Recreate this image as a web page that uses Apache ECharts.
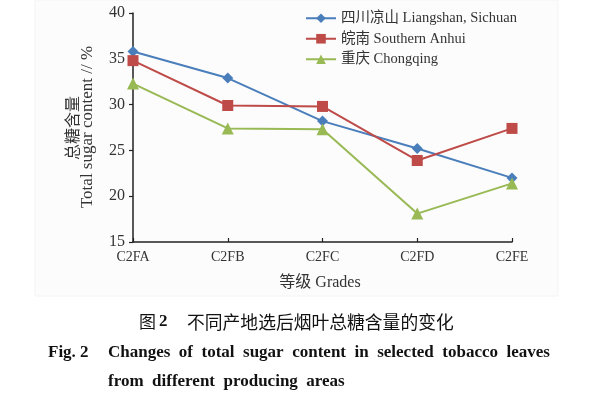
<!DOCTYPE html>
<html>
<head>
<meta charset="utf-8">
<script src="https://cdn.jsdelivr.net/npm/echarts@6/dist/echarts.min.js"></script>
<style>html,body{margin:0;padding:0;background:#fff;}#c{width:600px;height:398px;}</style>
</head>
<body>
<div id="c"></div>
<script>
const categories = ['C2FA', 'C2FB', 'C2FC', 'C2FD', 'C2FE'];
const seriesNames = ['四川凉山 Liangshan, Sichuan', '皖南 Southern Anhui', '重庆 Chongqing'];
const liangshan = [35.8, 32.9, 28.2, 25.2, 22.0];
const anhui = [34.8, 29.9, 29.8, 23.9, 27.4];
const chongqing = [32.3, 27.4, 27.3, 18.1, 21.4];
const yTicks = { min: 15, max: 40, interval: 5 };
const yTitleCn = '总糖含量';
const yTitleEn = 'Total sugar content // %';
const xTitle = '等级 Grades';
const captionCnLabel = '图';
const captionCnNum = '2';
const captionCn = '不同产地选后烟叶总糖含量的变化';
const captionEnLabel = 'Fig. 2';
const captionEn1 = 'Changes of total sugar content in selected tobacco leaves';
const captionEn2 = 'from different producing areas';

const serif = '"Liberation Serif", "Times New Roman", serif';
const serifCjk = '"Liberation Serif", "Noto Sans CJK SC", serif';
const cjk = '"Noto Sans CJK SC", sans-serif';
const justify = s => s.split(' ').join('\u2002');
const chart = echarts.init(document.getElementById('c'), null, { renderer: 'canvas' });

const colors = ['#4a7ebb', '#be4b48', '#98b954'];
const symbols = ['diamond', 'rect', 'triangle'];
const sizes = [11, 11, 12];
const dataSets = [liangshan, anhui, chongqing];

chart.setOption({
  backgroundColor: '#ffffff',
  animation: false,
  color: colors,
  grid: { left: 133, right: 88, top: 13, bottom: 156, containLabel: false },
  legend: {
    orient: 'vertical',
    left: 300,
    top: 6,
    itemWidth: 30,
    itemHeight: 12,
    itemGap: 6,
    textStyle: { fontFamily: serifCjk, fontSize: 14.5, color: '#333' },
    data: seriesNames
  },
  xAxis: {
    type: 'category',
    data: categories,
    boundaryGap: false,
    axisLine: { lineStyle: { color: '#222', width: 1.5 } },
    axisTick: { inside: true, length: 4, lineStyle: { color: '#222', width: 1.2 } },
    axisLabel: { fontFamily: serif, fontSize: 14, color: '#333', margin: 8 },
    splitLine: { show: false }
  },
  yAxis: {
    type: 'value',
    min: yTicks.min,
    max: yTicks.max,
    interval: yTicks.interval,
    axisLine: { show: true, lineStyle: { color: '#222', width: 1.5 } },
    axisTick: { show: true, inside: false, length: 4, lineStyle: { color: '#222', width: 1.2 } },
    axisLabel: { fontFamily: serif, fontSize: 16, color: '#333', margin: 8 },
    splitLine: { show: false }
  },
  series: dataSets.map((d, i) => ({
    name: seriesNames[i],
    type: 'line',
    data: d,
    symbol: symbols[i],
    symbolSize: sizes[i],
    lineStyle: { width: 2, color: colors[i] },
    itemStyle: { color: colors[i] },
    z: 2 + i
  })),
  graphic: [
    { type: 'rect', z: -10, shape: { x: 35, y: 0, width: 523, height: 296 }, style: { fill: '#fcfcfc', stroke: '#f4f4f4' } },
    { type: 'text', x: 72, y: 128, rotation: Math.PI / 2, style: { text: yTitleCn, font: '16px ' + cjk, fill: '#333', align: 'center', verticalAlign: 'middle' } },
    { type: 'text', x: 88, y: 127, rotation: Math.PI / 2, style: { text: yTitleEn, font: '17px ' + serif, fill: '#333', align: 'center', verticalAlign: 'middle' } },
    { type: 'text', x: 320, y: 283, style: { text: xTitle, font: '16px ' + serifCjk, fill: '#333', align: 'center', verticalAlign: 'middle' } },
    { type: 'text', x: 139, y: 322, style: { text: captionCnLabel, font: '17px ' + cjk, fill: '#111', align: 'left', verticalAlign: 'middle' } },
    { type: 'text', x: 159, y: 322, style: { text: captionCnNum, font: 'bold 17px ' + serif, fill: '#111', align: 'left', verticalAlign: 'middle' } },
    { type: 'text', x: 187, y: 322, style: { text: captionCn, font: '17.8px ' + cjk, fill: '#111', align: 'left', verticalAlign: 'middle' } },
    { type: 'text', x: 48, y: 353, style: { text: captionEnLabel, font: 'bold 17px ' + serif, fill: '#111', align: 'left', verticalAlign: 'middle' } },
    { type: 'text', x: 108, y: 353, style: { text: justify(captionEn1), font: 'bold 17px ' + serif, fill: '#111', align: 'left', verticalAlign: 'middle' } },
    { type: 'text', x: 108, y: 382, style: { text: justify(captionEn2), font: 'bold 17px ' + serif, fill: '#111', align: 'left', verticalAlign: 'middle' } }
  ]
});
</script>
</body>
</html>
